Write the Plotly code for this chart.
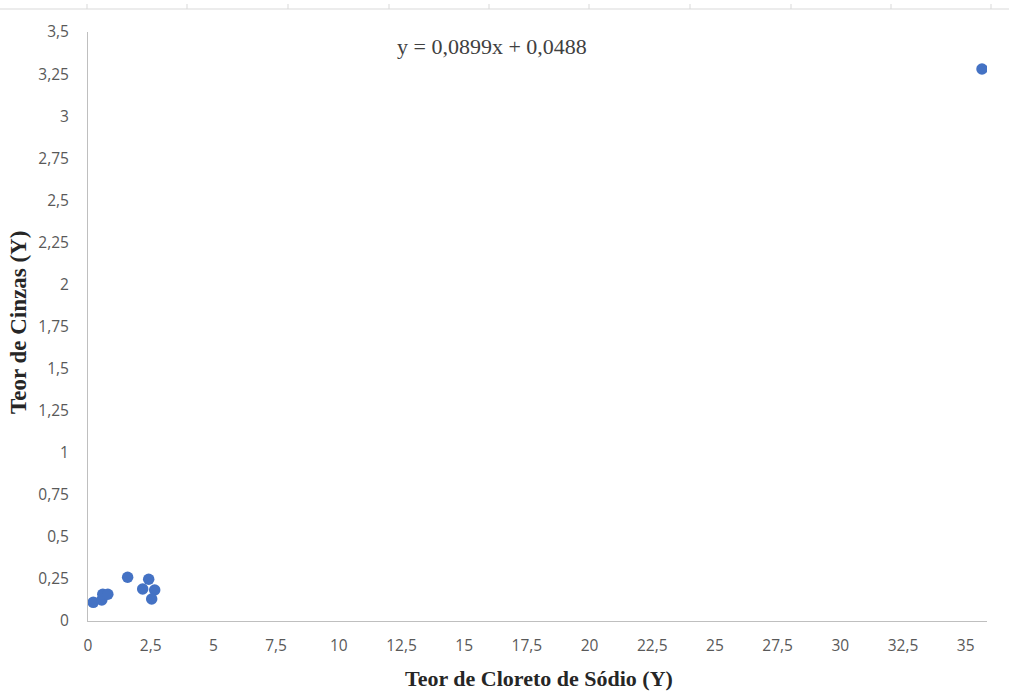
import plotly.graph_objects as go

# Data
sodium_chloride = [0.21, 0.55, 0.59, 0.79, 1.58, 2.18, 2.42, 2.66, 2.54, 35.65]
ash_content = [0.111, 0.125, 0.159, 0.159, 0.26, 0.19, 0.248, 0.184, 0.131, 3.28]

x_tickvals = [0, 2.5, 5, 7.5, 10, 12.5, 15, 17.5, 20, 22.5, 25, 27.5, 30, 32.5, 35]
x_ticktext = ["0", "2,5", "5", "7,5", "10", "12,5", "15", "17,5", "20", "22,5",
              "25", "27,5", "30", "32,5", "35"]
y_tickvals = [0, 0.25, 0.5, 0.75, 1, 1.25, 1.5, 1.75, 2, 2.25, 2.5, 2.75, 3, 3.25, 3.5]
y_ticktext = ["0", "0,25", "0,5", "0,75", "1", "1,25", "1,5", "1,75", "2", "2,25",
              "2,5", "2,75", "3", "3,25", "3,5"]
x_title = "Teor de Cloreto de Sódio (Y)"
y_title = "Teor de Cinzas (Y)"
equation = "y = 0,0899x + 0,0488"

W, H = 1009, 691
L, R, T, B = 88, 22, 32, 70
pw, ph = W - L - R, H - T - B

fig = go.Figure()
fig.add_trace(go.Scatter(
    x=sodium_chloride, y=ash_content, mode="markers",
    marker=dict(color="#4472C4", size=11.5, line=dict(width=0)),
    showlegend=False, hoverinfo="x+y",
))

tick_font = dict(family="Open Sans, Liberation Sans, sans-serif", size=15.5, color="#595959")
serif = "Liberation Serif, Times New Roman, serif"

fig.update_xaxes(
    range=[0, 35.85], tickvals=x_tickvals, ticktext=x_ticktext, automargin=False,
    showgrid=False, zeroline=False, showline=True, linecolor="#bfbfbf", linewidth=1,
    ticks="", tickfont=tick_font, ticklabelstandoff=10,
)
fig.update_yaxes(
    range=[0, 3.5], tickvals=y_tickvals, ticktext=y_ticktext, automargin=False,
    showgrid=False, zeroline=False, showline=True, linecolor="#bfbfbf", linewidth=1,
    ticks="", tickfont=tick_font, ticklabelstandoff=15,
)

# Cropped strip of a neighbouring chart at the very top
def px_x(p):
    return (p - L) / pw

def px_y(p):
    return (H - B - p) / ph

shapes = [dict(type="line", xref="paper", yref="paper",
               x0=px_x(0), x1=px_x(W), y0=px_y(9), y1=px_y(9),
               line=dict(color="#d9d9d9", width=1))]
for tx in [87, 187, 288, 389, 489, 589, 690, 791, 891, 991]:
    shapes.append(dict(type="line", xref="paper", yref="paper",
                       x0=px_x(tx), x1=px_x(tx), y0=px_y(4), y1=px_y(9),
                       line=dict(color="#d9d9d9", width=1)))

annotations = [
    dict(text=equation, xref="paper", yref="paper",
         x=px_x(492), y=px_y(46), xanchor="center", yanchor="middle", showarrow=False,
         font=dict(family=serif, size=22, color="#404040")),
    dict(text="<b>" + x_title + "</b>", xref="paper", yref="paper",
         x=px_x(539), y=px_y(678), xanchor="center", yanchor="middle", showarrow=False,
         font=dict(family=serif, size=22, color="#262626")),
    dict(text="<b>" + y_title + "</b>", xref="paper", yref="paper", textangle=-90,
         x=px_x(18), y=px_y(323), xanchor="center", yanchor="middle", showarrow=False,
         font=dict(family=serif, size=23, color="#262626")),
]

fig.update_layout(
    width=W, height=H,
    margin=dict(l=L, r=R, t=T, b=B),
    plot_bgcolor="white", paper_bgcolor="white",
    shapes=shapes,
    annotations=annotations,
)

fig.write_html("out.html")
